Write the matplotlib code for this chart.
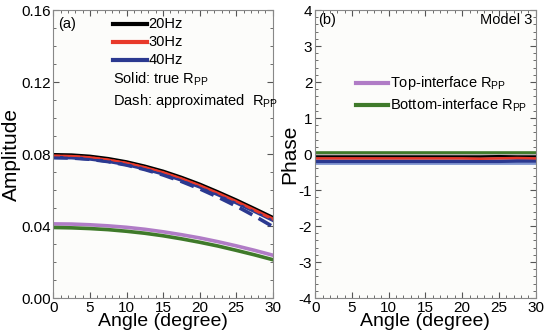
import matplotlib.pyplot as plt
import numpy as np

plt.rcParams['font.family'] = ['Liberation Sans', 'DejaVu Sans']
plt.rcParams['mathtext.fontset'] = 'custom'
plt.rcParams['mathtext.rm'] = 'Liberation Sans'
plt.rcParams['axes.unicode_minus'] = False

# incidence angle (degree)
angle = [0, 2.5, 5, 7.5, 10, 12.5, 15, 17.5, 20, 22.5, 25, 27.5, 30]

# (a) amplitude of true R_PP for each frequency
amp_20 = [0.0796, 0.0794, 0.0787, 0.0774, 0.0756, 0.0732, 0.0704, 0.0670, 0.0632, 0.0589, 0.0544, 0.0496, 0.0447]
amp_30 = [0.0792, 0.0790, 0.0783, 0.0770, 0.0752, 0.0728, 0.0700, 0.0666, 0.0628, 0.0585, 0.0540, 0.0492, 0.0443]
amp_40 = [0.0782, 0.0780, 0.0773, 0.0760, 0.0742, 0.0718, 0.0690, 0.0656, 0.0618, 0.0575, 0.0530, 0.0482, 0.0433]
# approximated R_PP (dashed)
amp_30_ap = [0.0792, 0.0790, 0.0783, 0.0770, 0.0752, 0.0728, 0.0699, 0.0665, 0.0626, 0.0582, 0.0535, 0.0485, 0.0434]
amp_40_ap = [0.0780, 0.0778, 0.0771, 0.0758, 0.0739, 0.0714, 0.0684, 0.0648, 0.0607, 0.0561, 0.0511, 0.0456, 0.0397]
# single-interface R_PP
amp_top = [0.0412, 0.0411, 0.0407, 0.0401, 0.0393, 0.0382, 0.0368, 0.0352, 0.0334, 0.0313, 0.0290, 0.0265, 0.0238]
amp_bot = [0.0392, 0.0390, 0.0386, 0.0380, 0.0371, 0.0360, 0.0346, 0.0329, 0.0310, 0.0289, 0.0265, 0.0240, 0.0213]

# (b) phase
ph_top = [-0.04] * 13
ph_bot = [0.02] * 13
ph_20 = [-0.07, -0.07, -0.07, -0.07, -0.07, -0.07, -0.07, -0.07, -0.07, -0.07, -0.06, -0.07, -0.07]
ph_30 = [-0.12, -0.12, -0.12, -0.12, -0.12, -0.12, -0.12, -0.12, -0.12, -0.13, -0.12, -0.11, -0.12]
ph_40 = [-0.20, -0.20, -0.20, -0.20, -0.20, -0.20, -0.20, -0.20, -0.20, -0.20, -0.20, -0.19, -0.19]
ph_40_ap = [-0.24] * 13

c_black, c_red, c_blue = '#000000', '#e8392a', '#2b3990'
c_purple, c_green = '#b07cc6', '#3f7a2a'
bg = '#fcfcfa'

fig = plt.figure(figsize=(5.5, 3.36), dpi=100, facecolor='white')
ax1 = fig.add_axes([0.097, 0.113, 0.399, 0.857])
ax2 = fig.add_axes([0.573, 0.113, 0.401, 0.857])

lw = 2.6
ax1.plot(angle, amp_20, color=c_black, lw=lw)
ax1.plot(angle, amp_40, color=c_blue, lw=lw)
ax1.plot(angle, amp_30, color=c_red, lw=1.4)
ax1.plot(angle, amp_40_ap, color=c_blue, lw=lw, ls=(0, (4, 2)))
ax1.plot(angle, amp_30_ap, color=c_red, lw=1.2, ls=(0, (4, 2)))
ax1.plot(angle, amp_top, color=c_purple, lw=lw)
ax1.plot(angle, amp_bot, color=c_green, lw=lw)

ax2.plot(angle, ph_bot, color=c_green, lw=lw)
ax2.plot(angle, ph_top, color='#b0b0a8', lw=1.5)
ax2.plot(angle, ph_20, color=c_black, lw=1.8)
ax2.plot(angle, ph_40_ap, color='#7f94d0', lw=2)
ax2.plot(angle, ph_40, color=c_blue, lw=lw)
ax2.plot(angle, ph_30, color=c_red, lw=1.8)

for ax in (ax1, ax2):
    ax.set_facecolor(bg)
    ax.set_xlim(0, 30)
    ax.set_xticks(range(0, 31, 5))
    ax.minorticks_on()
    ax.tick_params(which='both', direction='in', top=True, right=True, labelsize=11, pad=2, color='#555555')
    ax.tick_params(which='major', length=4)
    ax.tick_params(which='minor', length=2)
    for s in ax.spines.values():
        s.set_color('#888888')
    ax.set_xlabel('Angle (degree)', fontsize=14, labelpad=-1)

ax1.set_ylim(0, 0.16)
ax1.set_yticks([0, 0.04, 0.08, 0.12, 0.16])
ax1.set_yticklabels(['0.00', '0.04', '0.08', '0.12', '0.16'])
ax1.set_ylabel('Amplitude', fontsize=15, labelpad=0)
ax2.set_ylim(-4, 4)
ax2.set_yticks(range(-4, 5))
ax2.set_ylabel('Phase', fontsize=15, labelpad=0)

rpp = r'R$_{\rm PP}$'
fs = 10.5
# legend (a)
for y, c, lab in [(0.152, c_black, '20Hz'), (0.142, c_red, '30Hz'), (0.132, c_blue, '40Hz')]:
    ax1.plot([8.2, 12.8], [y, y], color=c, lw=3, clip_on=False)
    ax1.text(13.0, y, lab, fontsize=fs, va='center')
ax1.text(8.2, 0.1215, 'Solid: true ' + rpp, fontsize=fs, va='center')
ax1.text(8.2, 0.1095, 'Dash: approximated  ' + rpp, fontsize=fs, va='center')
ax1.text(0.6, 0.1525, '(a)', fontsize=fs, va='center')

# legend (b)
for y, c, lab in [(1.97, c_purple, 'Top-interface ' + rpp), (1.36, c_green, 'Bottom-interface ' + rpp)]:
    ax2.plot([5.6, 9.9], [y, y], color=c, lw=3)
    ax2.text(10.2, y, lab, fontsize=fs, va='center')
ax2.text(0.4, 3.72, '(b)', fontsize=fs, va='center')
ax2.text(29.6, 3.72, 'Model 3', fontsize=fs, va='center', ha='right')

fig.savefig('out.png', dpi=100, facecolor='white')
